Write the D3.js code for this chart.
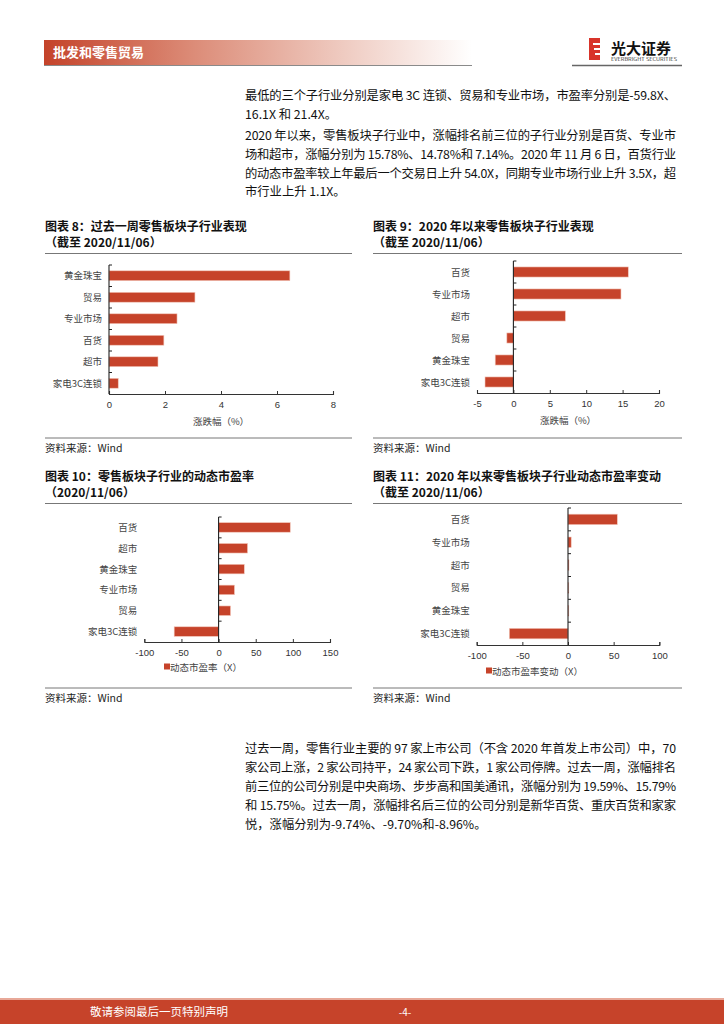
<!DOCTYPE html>
<html><head><meta charset="utf-8">
<script src="https://cdn.jsdelivr.net/npm/d3@7"></script>
<style>
body{margin:0;background:#fff;}
svg{display:block;font-family:"Noto Sans CJK SC","Noto Sans",sans-serif;}
</style></head>
<body><svg id="page" width="724" height="1024"></svg>
<script>
// ---- data ----
const cats8 = ["黄金珠宝","贸易","专业市场","百货","超市","家电3C连锁"];
const vals8 = [6.46, 3.07, 2.43, 1.96, 1.75, 0.33];
const ticks8 = [0,2,4,6,8];

const cats9 = ["百货","专业市场","超市","贸易","黄金珠宝","家电3C连锁"];
const vals9 = [15.78, 14.78, 7.14, -0.9, -2.5, -3.9];
const ticks9 = [-5,0,5,10,15,20];

const cats10 = ["百货","超市","黄金珠宝","专业市场","贸易","家电3C连锁"];
const vals10 = [96.5, 39.0, 34.6, 21.4, 16.1, -59.8];
const ticks10 = [-100,-50,0,50,100,150];

const cats11 = ["百货","专业市场","超市","贸易","黄金珠宝","家电3C连锁"];
const vals11 = [54.0, 3.5, 1.1, 0.5, 0.3, -64.3];
const ticks11 = [-100,-50,0,50,100];

const para1 = ["最低的三个子行业分别是家电 3C 连锁、贸易和专业市场，市盈率分别是-59.8X、","16.1X 和 21.4X。"];
const para2 = ["2020 年以来，零售板块子行业中，涨幅排名前三位的子行业分别是百货、专业市",
"场和超市，涨幅分别为 15.78%、14.78%和 7.14%。2020 年 11 月 6 日，百货行业",
"的动态市盈率较上年最后一个交易日上升 54.0X，同期专业市场行业上升 3.5X，超",
"市行业上升 1.1X。"];
const para3 = ["过去一周，零售行业主要的 97 家上市公司（不含 2020 年首发上市公司）中，70",
"家公司上涨，2 家公司持平，24 家公司下跌，1 家公司停牌。过去一周，涨幅排名",
"前三位的公司分别是中央商场、步步高和国美通讯，涨幅分别为 19.59%、15.79%",
"和 15.75%。过去一周，涨幅排名后三位的公司分别是新华百货、重庆百货和家家",
"悦，涨幅分别为-9.74%、-9.70%和-8.96%。"];

const RED = "#C6432A";
const svg = d3.select("#page");

// ---- header ----
const defs = svg.append("defs");
const g1 = defs.append("linearGradient").attr("id","hdr").attr("x1","0").attr("x2","1");
g1.append("stop").attr("offset","0").attr("stop-color","#C4432A");
g1.append("stop").attr("offset","0.35").attr("stop-color","#DC8C78");
g1.append("stop").attr("offset","0.7").attr("stop-color","#EFCBC1");
g1.append("stop").attr("offset","1").attr("stop-color","#FFFFFF");
svg.append("rect").attr("x",44).attr("y",40).attr("width",428).attr("height",25).attr("fill","url(#hdr)");
svg.append("line").attr("x1",44).attr("x2",472).attr("y1",65.5).attr("y2",65.5).attr("stroke","#8a8a8a").attr("stroke-width",1);
svg.append("text").attr("x",53).attr("y",57).attr("fill","#fff").attr("font-size",13).attr("font-weight","bold").text("批发和零售贸易");

// logo
const lg = svg.append("g");
lg.append("rect").attr("x",589).attr("y",38).attr("width",11).attr("height",22).attr("fill","#D8342A");
[43,48,53].forEach((y,i)=>lg.append("rect").attr("x",593+i).attr("y",y).attr("width",8-i).attr("height",2).attr("fill","#fff"));
lg.append("text").attr("x",611).attr("y",54).attr("font-size",15).attr("font-weight","bold").attr("fill","#111").text("光大证券");
lg.append("text").attr("x",611).attr("y",61).attr("font-size",4.2).attr("fill","#333").attr("textLength",66).attr("lengthAdjust","spacingAndGlyphs").text("EVERBRIGHT SECURITIES");
svg.append("line").attr("x1",572).attr("x2",682).attr("y1",65.5).attr("y2",65.5).attr("stroke","#666").attr("stroke-width",1.5);

// ---- paragraphs ----
function para(lines, y0, dy){
  lines.forEach((t,i)=>{
    const last = i===lines.length-1;
    const tx = svg.append("text").attr("x",245).attr("y",y0+i*dy).attr("font-size",12.3).attr("fill","#111").text(t);
    if(!last) tx.attr("textLength",431).attr("lengthAdjust","spacing");
  });
}
para(para1, 100, 18.5);
para(para2, 140, 18.8);
para(para3, 753, 19);

// ---- charts ----
function chart(o){
  const g = svg.append("g");
  o.title.forEach((t,i)=> g.append("text").attr("x",o.rx0).attr("y",o.ty+ i*16).attr("font-size",12).attr("font-weight","bold").attr("fill","#111").text(t));
  g.append("line").attr("x1",o.rx0).attr("x2",o.rx1).attr("y1",o.ty+22.5).attr("y2",o.ty+22.5).attr("stroke","#777").attr("stroke-width",1);
  g.append("line").attr("x1",o.rx0).attr("x2",o.rx1).attr("y1",o.by).attr("y2",o.by).attr("stroke","#777").attr("stroke-width",1);
  g.append("text").attr("x",o.rx0).attr("y",o.by+14).attr("font-size",10.5).attr("fill","#222").text("资料来源：Wind");

  const x = d3.scaleLinear().domain(o.domain).range([o.x0,o.x1]);
  const y = d3.scaleBand().domain(o.cats).range([o.y0,o.y1]).paddingInner(0.54).paddingOuter(0.27);
  const zx = x(0);
  g.selectAll("rect.bar").data(o.vals).enter().append("rect")
    .attr("x",(d)=>Math.min(x(d),zx)).attr("width",d=>Math.max(0.8,Math.abs(x(d)-zx)))
    .attr("y",(d,i)=>y(o.cats[i])).attr("height",y.bandwidth())
    .attr("fill",RED).attr("stroke","#F3C9BD").attr("stroke-width",0.6);
  const xa = g.append("g").attr("transform",`translate(0,${o.y1})`)
    .call(d3.axisBottom(x).tickValues(o.ticks).tickSize(-3).tickPadding(7).tickFormat(d=>String(d)));
  xa.select(".domain").attr("stroke","#333").attr("stroke-width",1.1);
  xa.selectAll(".tick line").attr("stroke","#333");
  xa.selectAll("text").attr("font-size",9.5).attr("fill","#333").attr("font-family","Liberation Sans, Arial, sans-serif");
  g.append("line").attr("x1",zx).attr("x2",zx).attr("y1",o.y0).attr("y2",o.y1).attr("stroke","#222").attr("stroke-width",1.1);
  const bnds = d3.range(o.cats.length).map(i=>o.y0 + i*(o.y1-o.y0)/o.cats.length);
  g.selectAll("line.yt").data(bnds).enter().append("line").attr("x1",zx).attr("x2",zx+3).attr("y1",d=>d).attr("y2",d=>d).attr("stroke","#222");
  g.selectAll("text.cat").data(o.cats).enter().append("text")
    .attr("x",o.x0-7).attr("y",d=>y(d)+y.bandwidth()/2+3.5).attr("text-anchor","end")
    .attr("font-size",9.5).attr("fill","#444").text(d=>d);
  if(o.axisTitle){
    g.append("text").attr("x",(o.x0+o.x1)/2).attr("y",o.y1+31).attr("text-anchor","middle").attr("font-size",9.5).attr("fill","#444").text(o.axisTitle);
  }
  if(o.legend){
    g.append("rect").attr("x",o.legX).attr("y",o.y1+o.legDy-3.5).attr("width",6).attr("height",6).attr("fill",RED);
    g.append("text").attr("x",o.legX+6).attr("y",o.y1+o.legDy+3.5).attr("font-size",9.5).attr("fill","#444").text(o.legend);
  }
}

chart({title:["图表 8：过去一周零售板块子行业表现","（截至 2020/11/06）"], ty:231, rx0:45, rx1:352, by:438,
  cats:cats8, vals:vals8, ticks:ticks8, domain:[0,8], x0:109, x1:333, y0:265, y1:394, axisTitle:"涨跌幅（%）"});
chart({title:["图表 9：2020 年以来零售板块子行业表现","（截至 2020/11/06）"], ty:231, rx0:373, rx1:682, by:438,
  cats:cats9, vals:vals9, ticks:ticks9, domain:[-5,20], x0:477, x1:659, y0:261, y1:393, axisTitle:"涨跌幅（%）"});
chart({title:["图表 10：零售板块子行业的动态市盈率","（2020/11/06）"], ty:481, rx0:45, rx1:352, by:688,
  cats:cats10, vals:vals10, ticks:ticks10, domain:[-100,150], x0:144.3, x1:330, y0:517, y1:642, legend:"动态市盈率（X）", legX:164, legDy:25});
chart({title:["图表 11：2020 年以来零售板块子行业动态市盈率变动","（截至 2020/11/06）"], ty:481, rx0:373, rx1:682, by:688,
  cats:cats11, vals:vals11, ticks:ticks11, domain:[-100,100], x0:476.7, x1:659.3, y0:508, y1:645, legend:"动态市盈率变动（X）", legX:486, legDy:26});

// ---- footer ----
svg.append("rect").attr("x",0).attr("y",998).attr("width",724).attr("height",2).attr("fill","#E8A898");
svg.append("rect").attr("x",0).attr("y",1000).attr("width",724).attr("height",24).attr("fill",RED);
svg.append("text").attr("x",90).attr("y",1016).attr("font-size",11.5).attr("fill","#fff").text("敬请参阅最后一页特别声明");
svg.append("text").attr("x",405).attr("y",1016).attr("font-size",10).attr("fill","#fff").attr("text-anchor","middle").text("-4-");
</script></body></html>
